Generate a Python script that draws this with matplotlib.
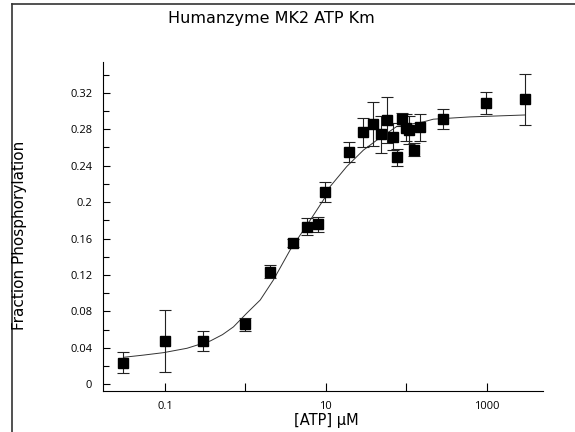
import matplotlib
matplotlib.use("Agg")

import matplotlib.pyplot as plt
from matplotlib.lines import Line2D
from matplotlib.ticker import FixedLocator, MultipleLocator, NullLocator


# ============================================================
# DATA
# ============================================================

atp_um = [
    0.030, 0.1, 0.3, 1.0, 2.0, 3.9, 5.9, 7.9, 9.8, 19.6, 28.8, 38.7,
    48.6, 57.7, 69.2, 77.5, 88.7, 99.5, 107, 124, 148, 289, 972, 2965,
]

fraction = [
    0.0237, 0.0475, 0.0475, 0.0659, 0.1236, 0.155, 0.173, 0.1756, 0.211,
    0.255, 0.2766, 0.2854, 0.2744, 0.290, 0.2718, 0.249, 0.291, 0.2817,
    0.279, 0.2575, 0.282, 0.291, 0.309, 0.313,
]

fraction_err = [
    0.0115, 0.034, 0.0115, 0.007, 0.007, 0.004, 0.009, 0.008, 0.011,
    0.011, 0.016, 0.024, 0.020, 0.025, 0.015, 0.009, 0.007, 0.015,
    0.015, 0.007, 0.015, 0.011, 0.012, 0.028,
]

# fitted curve
curve_x = [
    0.0306, 0.054, 0.096, 0.188, 0.366, 0.52, 0.711, 1.04, 1.53, 2.23,
    3.6, 6.38, 9.6, 11.3, 18.2, 29.3, 43, 76.2, 163, 217, 621, 2965,
]

curve_y = [
    0.0296, 0.032, 0.0347, 0.0395, 0.0475, 0.0545, 0.063, 0.078, 0.0925,
    0.1145, 0.1474, 0.180, 0.204, 0.217, 0.239, 0.257, 0.268, 0.283,
    0.288, 0.291, 0.2935, 0.2956,
]

x_ticks = [0.1, 1, 10, 100, 1000]
x_tick_labels = ["0.1", "", "10", "", "1000"]

y_ticks = [0, 0.04, 0.08, 0.12, 0.16, 0.2, 0.24, 0.28, 0.32]
y_tick_labels = ["0", "0.04", "0.08", "0.12", "0.16", "0.2", "0.24", "0.28", "0.32"]


# ============================================================
# FIGURE
# ============================================================

W, H = 575, 432
fig = plt.figure(figsize=(W / 100, H / 100), dpi=100)

left, right = 103.3, 543.3
top, bottom = 61.7, 391.0
ax = fig.add_axes([
    left / W,
    (H - bottom) / H,
    (right - left) / W,
    (bottom - top) / H,
])

ax.plot(
    curve_x,
    curve_y,
    color="#333333",
    linewidth=0.7,
    zorder=2,
)

ax.errorbar(
    atp_um,
    fraction,
    yerr=fraction_err,
    fmt="s",
    color="black",
    markersize=7,
    ecolor="#222222",
    elinewidth=0.8,
    capsize=4,
    capthick=0.8,
    zorder=3,
)

ax.set_xscale("log")
ax.set_xlim(0.01714, 5050)
ax.set_ylim(-0.0074, 0.3541)

ax.xaxis.set_major_locator(FixedLocator(x_ticks))
ax.set_xticklabels(x_tick_labels)
ax.xaxis.set_minor_locator(NullLocator())

ax.yaxis.set_major_locator(FixedLocator(y_ticks))
ax.set_yticklabels(y_tick_labels)
ax.yaxis.set_minor_locator(MultipleLocator(0.02))

for side in ["top", "right"]:
    ax.spines[side].set_visible(False)
for side in ["left", "bottom"]:
    ax.spines[side].set_linewidth(0.8)

ax.tick_params(axis="x", which="major", direction="in", length=6,
               width=0.8, pad=7)
ax.tick_params(axis="y", which="major", direction="in", length=5,
               width=0.8, pad=8)
ax.tick_params(axis="y", which="minor", direction="in", length=4,
               width=0.8)

for lab in ax.get_xticklabels() + ax.get_yticklabels():
    lab.set_fontfamily("Open Sans")
    lab.set_fontsize(8)

fig.text(271 / W, (H - 18) / H, "Humanzyme MK2 ATP Km",
         ha="center", va="center", fontsize=11.5, family="DejaVu Sans")
fig.text(326.7 / W, (H - 420) / H, "[ATP] \u00b5M",
         ha="center", va="center", fontsize=10.5, family="DejaVu Sans")
fig.text(20 / W, (H - 235) / H, "Fraction Phosphorylation",
         ha="center", va="center", rotation=90, fontsize=11,
         family="DejaVu Sans")

# outer frame (only the left and top edges fall inside the image)
fig.add_artist(Line2D([11.5 / W, 11.5 / W], [0, (H - 4.3) / H],
                      transform=fig.transFigure, color="#333333",
                      linewidth=1.2))
fig.add_artist(Line2D([11.5 / W, 1], [(H - 4.3) / H, (H - 4.3) / H],
                      transform=fig.transFigure, color="#333333",
                      linewidth=1.2))

fig.savefig("out.png", dpi=100)
